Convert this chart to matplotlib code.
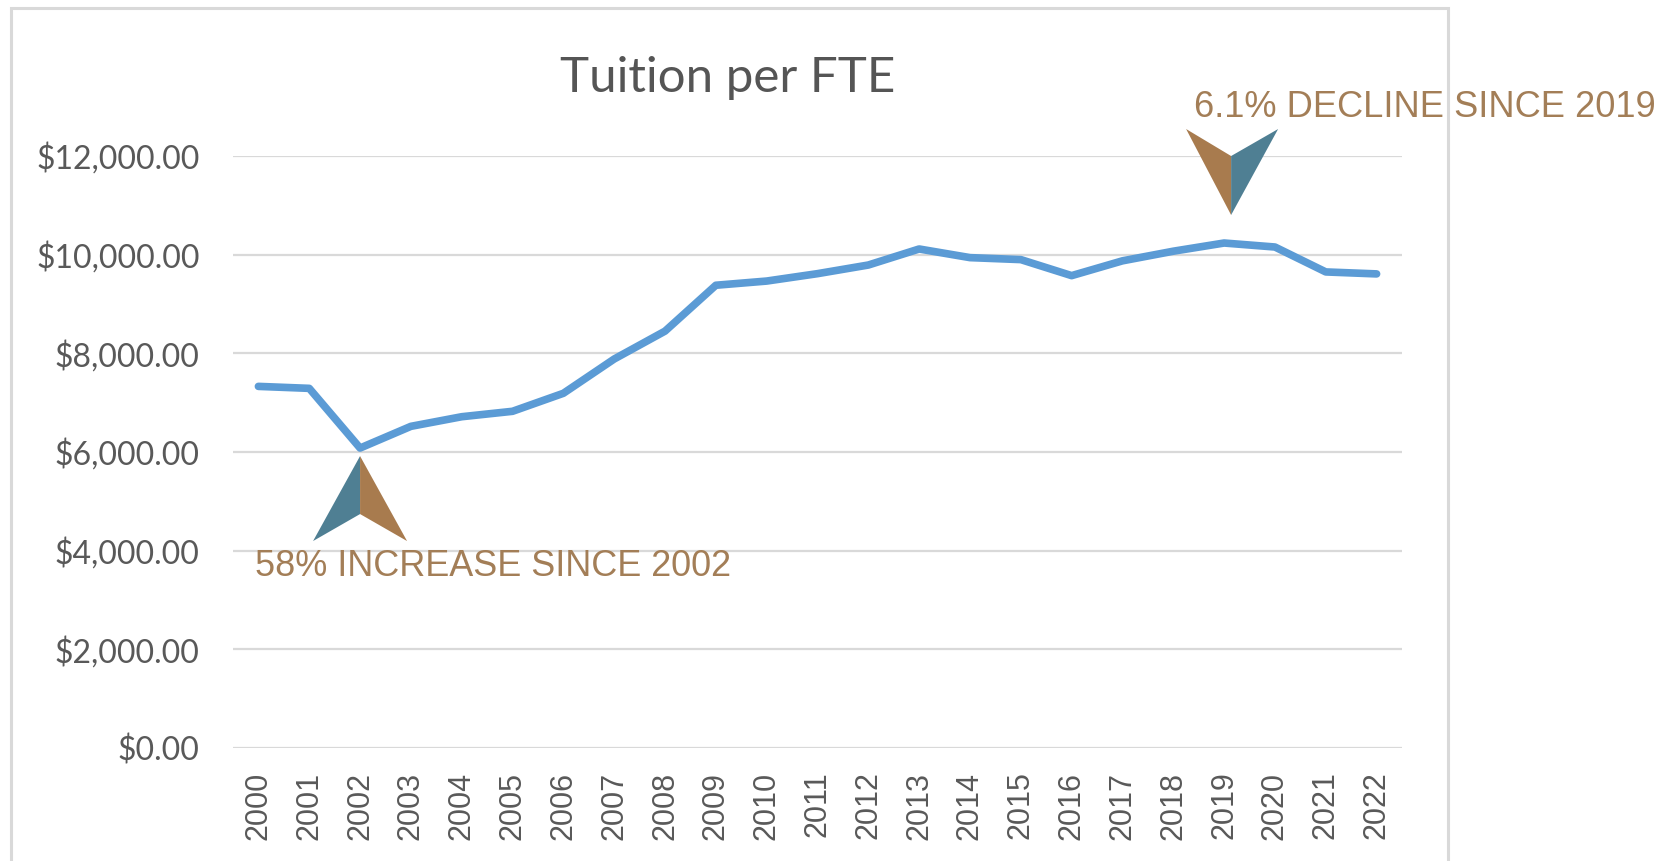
import matplotlib
matplotlib.use("Agg")
import matplotlib.pyplot as plt
import matplotlib.transforms as mtransforms
from matplotlib.patches import Polygon, Rectangle
import numpy as np

# tuition revenue per full-time-equivalent student
years = [str(y) for y in range(2000, 2023)]
tuition = [7330, 7290, 6080, 6520, 6715, 6825, 7190, 7885, 8450, 9380, 9465, 9615,
           9790, 10115, 9940, 9900, 9575, 9875, 10070, 10236, 10155, 9650, 9610]
y_ticks = [0, 2000, 4000, 6000, 8000, 10000, 12000]

title = "Tuition per FTE"
note_up = "58% INCREASE SINCE 2002"
note_down = "6.1% DECLINE SINCE 2019"
up_year = "2002"
down_year = "2019"

LINE_BLUE = "#5B9BD5"
GRID = "#D9D9D9"
LABEL = "#595959"
TEAL = "#4F7F93"
BROWN = "#A87B4E"
NOTE = "#A37E57"

fig = plt.figure(figsize=(16.76, 8.61), dpi=100)
fig.patch.set_facecolor("white")

# light border around the chart area
fig.add_artist(Rectangle((0.0066, -0.05), 0.8574, 1.0407, transform=fig.transFigure,
                         fill=False, edgecolor=GRID, linewidth=2.2))

ax = fig.add_axes([0.13902, 0.13124, 0.6975, 0.68758])
x = np.arange(len(years))
ax.plot(x, tuition, color=LINE_BLUE, linewidth=5.5, solid_capstyle="round",
        solid_joinstyle="round", zorder=3, clip_on=False)

ax.set_xlim(-0.5, len(years) - 0.5)
ax.set_ylim(0, 12000)
ax.set_yticks(y_ticks)
ax.set_yticklabels(["${:,.2f}".format(v) for v in y_ticks], fontfamily="Lato",
                   fontsize=23, color=LABEL)
ax.set_xticks(x)
ax.set_xticklabels(years, rotation=90, fontfamily="Liberation Sans", fontsize=22,
                   color=LABEL)
ax.tick_params(axis="both", length=0)
ax.tick_params(axis="y", pad=24)
ax.tick_params(axis="x", pad=17)
ax.grid(axis="y", color=GRID, linewidth=1.6)
ax.set_axisbelow(True)
for s in ax.spines.values():
    s.set_visible(False)

fig.text(0.4344, 1 - 92 / 861, title, ha="center", va="baseline",
         fontfamily="Lato", fontsize=35.5, color="#555555")


# split arrowhead drawn around a data point, vertices given in pixels (y up)
def arrow_head(xi, yv, left_pts, right_pts, left_color, right_color):
    trans = fig.dpi_scale_trans + mtransforms.ScaledTranslation(xi, yv, ax.transData)
    for pts, col in ((left_pts, left_color), (right_pts, right_color)):
        verts = np.array(pts, dtype=float) / 100.0
        ax.add_patch(Polygon(verts, closed=True, facecolor=col, edgecolor="none",
                             transform=trans, clip_on=False, zorder=4))


iu = years.index(up_year)
arrow_head(iu, tuition[iu],
           [(0, -8), (-47, -93), (0, -66)],
           [(0, -8), (0, -66), (47, -93)],
           TEAL, BROWN)
ax.annotate(note_up, xy=(iu, tuition[iu]), xytext=(-76, -92), textcoords="offset points",
            ha="left", va="baseline", fontfamily="Liberation Sans", fontsize=25.9,
            color=NOTE, annotation_clip=False)

idn = years.index(down_year)
arrow_head(idn, tuition[idn],
           [(-38, 114), (7, 28), (7, 87)],
           [(7, 87), (7, 28), (54, 114)],
           BROWN, TEAL)
ax.annotate(note_down, xy=(idn, tuition[idn]), xytext=(-22, 91), textcoords="offset points",
            ha="left", va="baseline", fontfamily="Liberation Sans", fontsize=26.1,
            color=NOTE, annotation_clip=False)

fig.savefig("out.png", dpi=100, facecolor="white")
